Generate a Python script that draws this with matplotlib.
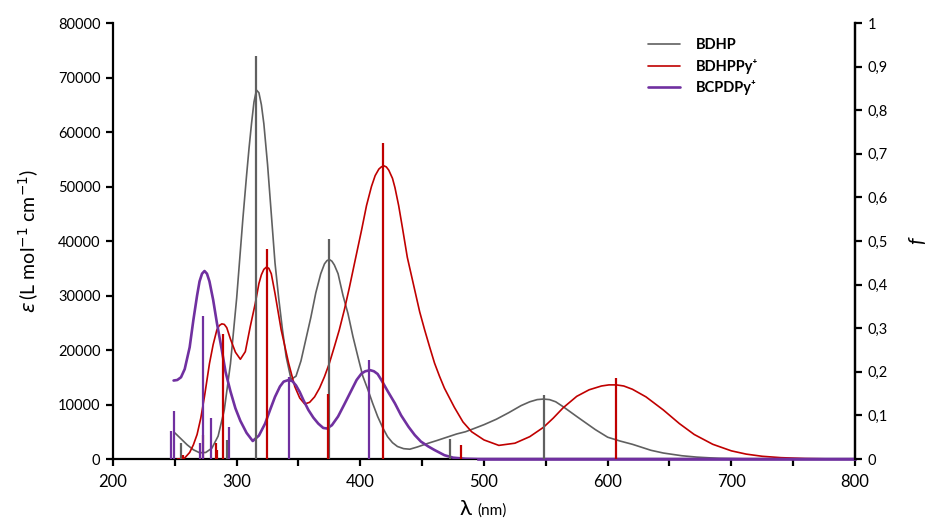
import matplotlib
matplotlib.use("Agg")
import matplotlib.pyplot as plt
from matplotlib.ticker import MultipleLocator, FuncFormatter

plt.rcParams["font.family"] = ["Lato", "DejaVu Sans"]
plt.rcParams["mathtext.fontset"] = "dejavusans"

# ── absorption spectra (wavelength in nm, epsilon in L mol-1 cm-1) ──
bdhp_nm = [250, 255, 260, 265, 270, 275, 280, 285, 290, 295, 300, 305, 308,
           310, 312, 314, 316, 318, 320, 322, 325, 328, 331, 334, 337, 340,
           344, 348, 352, 356, 360, 364, 368, 371, 373, 375, 377, 379, 382,
           386, 390, 394, 398, 402, 406, 410, 414, 418, 422, 426, 430, 435,
           440, 446, 455, 462, 470, 478, 485, 492, 500, 510, 520, 530, 537,
           543, 548, 553, 558, 564, 575, 590, 600, 610, 620, 635, 645, 660,
           672, 690, 710, 730, 800]
bdhp_eps = [4800, 3700, 2600, 1700, 1150, 1200, 2000, 4200, 9000, 17500,
            29500, 44000, 52000, 57000, 61500, 65500, 67700, 67200, 65000,
            61500, 54000, 45000, 36000, 29500, 23800, 18800, 14600, 15200,
            18000, 22000, 26000, 30500, 34000, 35800, 36400, 36600, 36300,
            35600, 34000, 30000, 26700, 22500, 18800, 15200, 12800, 10200,
            7800, 5800, 4100, 3000, 2300, 1900, 1800, 2200, 2900, 3400, 4000,
            4600, 5000, 5600, 6300, 7300, 8500, 9800, 10500, 10900, 11000,
            10900, 10500, 9600, 7800, 5400, 4000, 3300, 2700, 1600, 1100,
            600, 350, 120, 30, 0, 0]

bdhppy_nm = [252, 255, 258, 262, 265, 268, 271, 274, 278, 281, 284, 286,
             288, 290, 292, 295, 299, 303, 307, 311, 315, 318, 320, 322, 324,
             326, 328, 331, 336, 342, 347, 351, 355, 359, 363, 367, 371, 375,
             379, 383, 387, 391, 395, 401, 405, 409, 412, 415, 417, 419, 421,
             423, 426, 428, 431, 434, 438, 444, 448, 452, 456, 460, 464, 468,
             476, 483, 490, 500, 512, 525, 537, 548, 556, 564, 575, 585, 595,
             601, 607, 613, 620, 631, 645, 658, 670, 685, 700, 712, 725, 740,
             760, 780, 800]
bdhppy_eps = [0, 50, 200, 1200, 2600, 4500, 7500, 11500, 17500, 21000,
              23700, 24500, 24800, 24700, 24100, 22000, 19600, 18300, 19700,
              24300, 28500, 32200, 33800, 34800, 35200, 35000, 34000, 30400,
              23700, 17600, 13300, 11200, 10100, 10400, 11400, 13000, 15100,
              17600, 20600, 23700, 27300, 31300, 35600, 42000, 46500, 50000,
              52000, 53200, 53600, 53800, 53600, 53000, 51500, 49800, 46500,
              42500, 37000, 31000, 27000, 23700, 20600, 17600, 15200, 13000,
              9500, 6800, 5000, 3500, 2500, 2900, 4100, 5800, 7500, 9400,
              11500, 12700, 13400, 13600, 13600, 13400, 12800, 11400, 9000,
              6500, 4500, 2700, 1500, 900, 500, 250, 80, 20, 0]

bcpdpy_nm = [249, 252, 255, 258, 262, 265, 268, 270, 272, 274, 276, 278,
             281, 284, 288, 291, 295, 299, 303, 308, 313, 318, 323, 327, 331,
             335, 338, 342, 345, 348, 351, 354, 358, 362, 366, 370, 373, 377,
             382, 387, 393, 397, 401, 404, 408, 411, 414, 417, 422, 428, 433,
             439, 444, 449, 455, 460, 468, 475, 485, 495, 800]
bcpdpy_eps = [14400, 14500, 15000, 16500, 20500, 25500, 30000, 32600,
              34000, 34500, 34000, 32600, 29200, 25000, 20000, 16000, 12400,
              9300, 7000, 4800, 3300, 4300, 6500, 9000, 11400, 13300, 14200,
              14500, 14300, 13500, 12300, 10800, 9000, 7600, 6500, 5700, 5600,
              6200, 7800, 10000, 12700, 14500, 15700, 16100, 16300, 16100,
              15600, 14500, 12500, 10200, 8000, 5900, 4400, 3200, 2300, 1650,
              700, 250, 50, 0, 0]

# ── calculated transitions (wavelength in nm, oscillator strength f) ──
bdhp_stick_nm = [255.2, 292.4, 315.6, 374.8, 472.3, 548.3]
bdhp_stick_f = [0.036, 0.044, 0.925, 0.505, 0.046, 0.147]

bdhppy_stick_nm = [256.5, 273.0, 283.0, 284.5, 289.2, 324.2, 374.0, 418.4,
                   481.8, 607.0]
bdhppy_stick_f = [0.01, 0.055, 0.036, 0.02, 0.287, 0.482, 0.149, 0.725,
                  0.031, 0.186]

bcpdpy_stick_nm = [247.1, 249.5, 270.0, 273.0, 279.0, 294.0, 342.2, 407.1]
bcpdpy_stick_f = [0.064, 0.109, 0.036, 0.328, 0.093, 0.073, 0.189, 0.226]

c_gray = "#606060"
c_red = "#C00000"
c_purple = "#7030A0"

fig = plt.figure(figsize=(9.33, 5.29), dpi=100)
ax = fig.add_axes([0.1211, 0.1323, 0.7953, 0.8242])
ax2 = ax.twinx()

line_kw = dict(solid_joinstyle="round", solid_capstyle="round")

# spectra on the left axis
ax.plot(bdhp_nm, bdhp_eps, color=c_gray, lw=1.2, label="BDHP", zorder=3,
        **line_kw)
ax.plot(bdhppy_nm, bdhppy_eps, color=c_red, lw=1.2, label="BDHPPy⁺",
        zorder=3, **line_kw)
ax.plot(bcpdpy_nm, bcpdpy_eps, color=c_purple, lw=1.9, label="BCPDPy⁺",
        zorder=4, **line_kw)
ax.plot([495, 800], [0, 0], color=c_purple, lw=1.9, zorder=5, clip_on=False)

# oscillator strengths on the right axis
ax2.vlines(bdhp_stick_nm, 0, bdhp_stick_f, color=c_gray, lw=1.6)
ax2.vlines(bdhppy_stick_nm, 0, bdhppy_stick_f, color=c_red, lw=1.6)
ax2.vlines(bcpdpy_stick_nm, 0, bcpdpy_stick_f, color=c_purple, lw=1.6)

ax.set_xlim(200, 800)
ax.set_ylim(0, 80000)
ax2.set_ylim(0, 1)

ax.xaxis.set_major_locator(MultipleLocator(100))
ax.xaxis.set_minor_locator(MultipleLocator(50))
ax.yaxis.set_major_locator(MultipleLocator(10000))
ax2.yaxis.set_major_locator(MultipleLocator(0.1))
ax2.yaxis.set_major_formatter(
    FuncFormatter(lambda v, p: ("%g" % round(v, 1)).replace(".", ",")))

for a in (ax, ax2):
    a.spines["top"].set_visible(False)
    for s in a.spines.values():
        s.set_linewidth(1.6)
    a.tick_params(which="both", direction="out", length=5, width=1.6,
                  labelsize=10.5, pad=4)
ax.tick_params(axis="x", labelsize=12, pad=6)
ax2.spines["left"].set_visible(False)
ax2.spines["bottom"].set_visible(False)

ax.set_ylabel(r"$\varepsilon\,$(L mol$^{-1}$ cm$^{-1}$)", fontsize=14,
              labelpad=12)
ax2.set_ylabel("f", fontsize=15, style="italic", labelpad=14)

fig.text(0.4929, 0.018, "λ", fontsize=16, ha="left", va="bottom")
fig.text(0.5115, 0.021, "(nm)", fontsize=11, ha="left", va="bottom")

leg = ax.legend(loc="upper left", bbox_to_anchor=(0.703, 0.995),
                frameon=False, handlelength=2.2, handletextpad=1.1,
                labelspacing=0.45, prop={"weight": "bold", "size": 10.5})

fig.savefig("out.png", dpi=100, facecolor="white")
